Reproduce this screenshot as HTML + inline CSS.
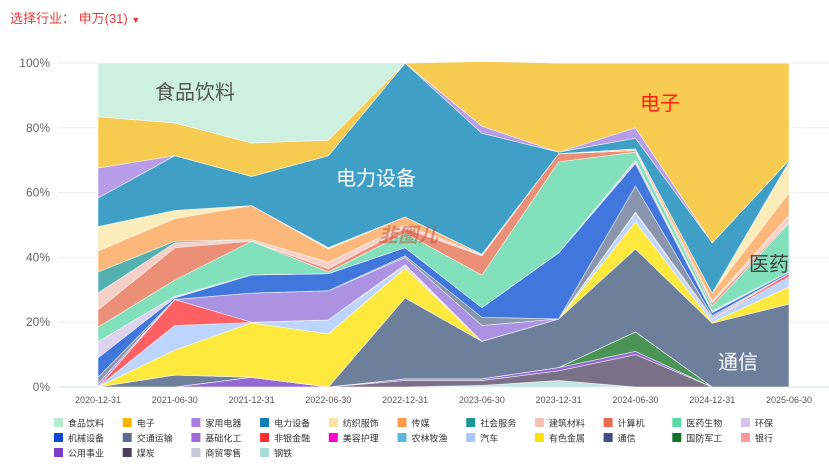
<!DOCTYPE html>
<html><head><meta charset="utf-8">
<style>
body{margin:0;background:#fff;font-family:"Liberation Sans","Noto Sans CJK SC",sans-serif;}
#wrap{position:relative;width:829px;height:467px;overflow:hidden;}
#title{position:absolute;left:10px;top:8px;font-size:13px;color:#e8383d;}
svg{position:absolute;left:0;top:0;}
</style></head>
<body>
<div id="wrap">
<div id="title">选择行业： 申万(31) <span style="font-size:9px">▼</span></div>
<svg id="chart" width="829" height="467"></svg>
</div>
<script>
const categories=["2020-12-31","2021-06-30","2021-12-31","2022-06-30","2022-12-31","2023-06-30","2023-12-31","2024-06-30","2024-12-31","2025-06-30"];
const yTicks=[0,20,40,60,80,100];
const seriesNames=["钢铁","煤炭","公用事业","国防军工","交通运输","通信","有色金属","汽车","非银金融","基础化工","交通运输2","机械设备","环保","医药生物","计算机","建筑材料","社会服务","传媒","纺织服饰","电力设备","家用电器","电子","食品饮料"];
const seriesColors=["#c1e5e4","#7a7087","#9668d4","#4a9455","#6e7f9c","#6e7f9c","#fde93e","#bdd4fc","#fe6064","#ab92e2","#8a96ad","#4177dd","#ddd3ef","#82e0bd","#ec8f77","#f6d0c8","#55b0b0","#fbb87a","#fbecb9","#3f9fc6","#b89ce8","#f6cb50","#cdf0e1"];
const s_gangtie=[0,0,0,0,0,0.5,2,0,0,0];
const s_meitan=[0,0,0,0,2,1.5,3,10,0,0];
const s_gongyong=[0,0,3,0,0.5,0.5,1,1,0,0];
const s_guofang=[0,0,0,0,0,0,0,6,0,0];
const s_jiaotong=[0,3.7,0,0,0,0,0,0,0,0];
const s_tongxin=[0,0,0,0,25,11.6,15,25.6,19.7,25.6];
const s_youse=[0,7.7,16.8,16.4,9.2,0,0,8.4,0.3,5.3];
const s_qiche=[0,7.6,0.1,4.3,0.8,0,0,2.7,1,3.1];
const s_feiyin=[0,8,0.1,0,0.3,0,0,0,0,1];
const s_jichu=[1,0,9,9,2.2,4.9,0,0.3,0.5,0];
const s_jiaotong2=[2,0,0,0,0.5,2.5,0,8,0.5,0];
const s_jixie=[6,0.5,5.6,5.3,2.5,3,20.4,7,1,0.5];
const s_huanbao=[5,0.5,0,0,0,0,0,1,0.5,0];
const s_yiyao=[4.5,5,10.4,0.5,4.5,10,28.1,2.5,1.5,15.1];
const s_jisuanji=[5.3,10,0,1,1.5,6,2.5,0.5,1,0.4];
const s_jiancai=[5.2,1.5,0.5,2,1,0.3,0,0,0.5,2];
const s_shehui=[6.5,0.5,0,0,0,0,0,0,0,0];
const s_chuanmei=[6.5,7,10.5,4.1,2.5,0.2,0,0.5,2.5,7];
const s_fangzhi=[7.5,2.5,0,0.4,0,0,0,0,0,9.5];
const s_dianli=[8.8,16.9,9,28.4,47.5,37.3,0.5,3.3,15.5,0.5];
const s_jiadian=[9.3,0,0,0,0,2.2,0,3.2,0,0];
const s_dianzi=[15.8,10.1,10.3,4.8,0,20,27.5,20,55.5,30];
const s_shipin=[16.6,18.5,24.7,23.8,0,0,0,0,0,0];
const seriesValues=[s_gangtie,s_meitan,s_gongyong,s_guofang,s_jiaotong,s_tongxin,s_youse,s_qiche,s_feiyin,s_jichu,s_jiaotong2,s_jixie,s_huanbao,s_yiyao,s_jisuanji,s_jiancai,s_shehui,s_chuanmei,s_fangzhi,s_dianli,s_jiadian,s_dianzi,s_shipin];
const legendNames=["食品饮料","电子","家用电器","电力设备","纺织服饰","传媒","社会服务","建筑材料","计算机","医药生物","环保","机械设备","交通运输","基础化工","非银金融","美容护理","农林牧渔","汽车","有色金属","通信","国防军工","银行","公用事业","煤炭","商贸零售","钢铁"];
const legendColors=["#b5ead3","#f7b500","#a77de0","#0b7fb3","#fbe3a4","#fd9a47","#1f9696","#f5c2b5","#ea6a4d","#5ed9a5","#d3c4ec","#0a48d6","#5b6d8f","#9c6bdc","#fe2d2d","#ff00c8","#5ab8e0","#aac6ff","#ffe100","#3f5080","#127329","#ff9a9a","#7a3ec4","#4a3d5e","#c3c9d6","#a8dcd9"];

const NS="http://www.w3.org/2000/svg";
const svg=document.getElementById('chart');
const X0=98,X1=789,Y0=387,Y1=63;
function xs(i){return X0+(X1-X0)*i/(categories.length-1);}
function ys(v){return Y0-(Y0-Y1)*v/100;}
function mk(t,a){const e=document.createElementNS(NS,t);for(const k in a)e.setAttribute(k,a[k]);svg.appendChild(e);return e;}
yTicks.forEach(t=>{
  const g=mk('line',{x1:58,x2:829,y1:ys(t),y2:ys(t),stroke:t===0?'#d6dcec':'#eeeeee','stroke-width':1});
  
  
  const l=mk('text',{x:50,y:ys(t)+4,'text-anchor':'end','font-size':12,fill:'#666'});
  l.textContent=t+'%';
  
  
});
let cum=categories.map(()=>0);
seriesValues.forEach((vals,si)=>{
  const low=cum.slice();
  const high=cum.map((c,i)=>c+vals[i]);
  let d='M'+high.map((v,i)=>xs(i)+','+ys(v)).join('L');
  for(let i=categories.length-1;i>=0;i--)d+='L'+xs(i)+','+ys(low[i]);
  const p=mk('path',{d:d+'Z',fill:seriesColors[si],stroke:'#fff','stroke-width':0.7,'stroke-opacity':0.7});
  
  
  cum=high;
});
categories.forEach((c,i)=>{
  const t=mk('text',{x:xs(i),y:403,'text-anchor':'middle','font-size':9,fill:'#555'});
  t.textContent=c;
  
  
});
const labels=[["食品饮料",155,99,'#555'],["电力设备",336,185,'#fff'],["电子",640,110,'#f21'],["医药",749,271,'#444'],["通信",718,369,'#fff']];
labels.forEach(l=>{
  const t=mk('text',{x:l[1],y:l[2],'font-size':20,fill:l[3]});
  t.textContent=l[0];
  
  
});
const wm=mk('text',{x:378,y:242,'font-size':20,fill:'#c0503c','fill-opacity':0.5,'font-style':'italic','font-weight':'bold'});
wm.textContent='韭圈儿';


legendNames.forEach((n,i)=>{
  const col=i%11,row=Math.floor(i/11);
  const x=54+col*68.7,y=418+row*15;
  const r=mk('rect',{x:x,y:y,width:9,height:9,fill:legendColors[i]});
  
  
  const t=mk('text',{x:x+14,y:y+8.5,'font-size':9,fill:'#333'});
  t.textContent=n;
  
  
});
</script>
</body></html>
